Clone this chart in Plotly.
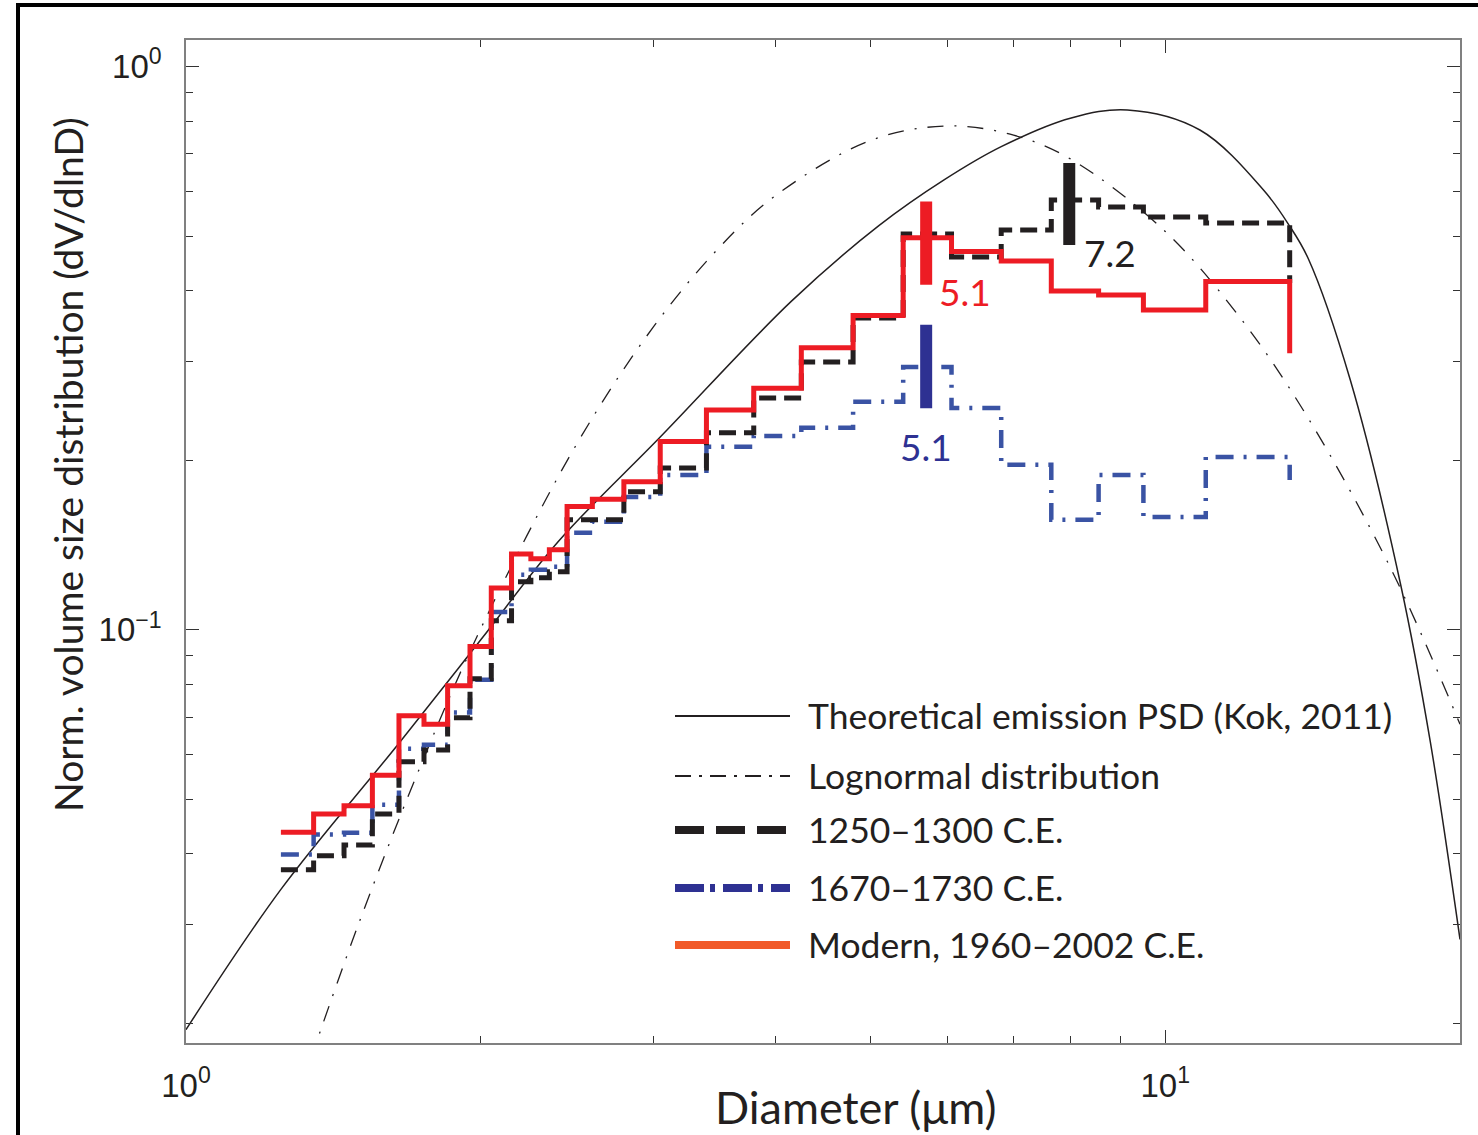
import math
import plotly.graph_objects as go

# ---------------- data ----------------
# bin edges of the step histograms (µm); last value closes the final bin
bin_edges = [1.25, 1.35, 1.45, 1.55, 1.65, 1.75, 1.85, 1.95, 2.05, 2.15, 2.25, 2.35,
             2.45, 2.6, 2.8, 3.05, 3.4, 3.8, 4.25, 4.8, 5.4, 6.05, 6.8, 7.65, 8.55,
             9.5, 11.0, 13.4]

psd_1250_1300 = [0.0375, 0.0397, 0.0415, 0.0471, 0.0583, 0.0612, 0.0698, 0.0819, 0.1038,
                 0.1217, 0.1237, 0.1268, 0.1568, 0.1568, 0.1758, 0.1939, 0.2238, 0.2581,
                 0.2990, 0.3580, 0.5047, 0.4594, 0.5129, 0.5800, 0.5637, 0.5411, 0.5279,
                 0.4130]
psd_1670_1730 = [0.0399, 0.0433, 0.0436, 0.0489, 0.0615, 0.0625, 0.0713, 0.0815, 0.1076,
                 0.1252, 0.1278, 0.1294, 0.1487, 0.1555, 0.1722, 0.1884, 0.2113, 0.2210,
                 0.2284, 0.2540, 0.2930, 0.2478, 0.1963, 0.1568, 0.1884, 0.1587, 0.2028,
                 0.1846]
psd_modern = [0.0437, 0.0471, 0.0487, 0.0552, 0.0704, 0.0680, 0.0796, 0.0934, 0.1186,
              0.1364, 0.1337, 0.1387, 0.1655, 0.1706, 0.1833, 0.2159, 0.2458, 0.2686,
              0.3170, 0.3614, 0.4971, 0.4695, 0.4520, 0.3997, 0.3933, 0.3699, 0.4153,
              0.3098]

# theoretical emission PSD (Kok, 2011)
kok_d = [1.0, 1.25, 1.65, 2.0, 2.4, 3.05, 4.15, 5.1, 5.95, 6.8, 8.0, 9.15, 10.85, 12.6,
         13.4, 14.0, 15.45, 17.4, 18.65, 20.0]
kok_v = [0.0195, 0.0346, 0.0629, 0.096, 0.1435, 0.22, 0.383, 0.522, 0.63, 0.721, 0.81,
         0.838, 0.772, 0.604, 0.521, 0.456, 0.278, 0.12, 0.0633, 0.0282]

# lognormal distribution, points
logn_d = [1.3, 1.5, 1.75, 2.0, 2.5, 3.0, 3.5, 4.0, 5.0, 6.0, 7.0, 8.0, 10.0, 12.0, 14.0,
          17.0, 20.0]
logn_v = [0.0148, 0.0300, 0.0593, 0.1005, 0.2122, 0.3447, 0.4764, 0.5904, 0.7396, 0.7848,
          0.7559, 0.6859, 0.5098, 0.3532, 0.2374, 0.1284, 0.0680]

# mode markers (thick vertical bars) and their labels
mode_labels = ["5.1", "5.1", "7.2"]
mode_x = [5.7, 5.7, 7.98]
mode_lo = [0.410, 0.2475, 0.4825]
mode_hi = [0.576, 0.348, 0.6746]

legend_labels = ["Theoretical emission PSD (Kok, 2011)", "Lognormal distribution",
                 "1250\u20131300 C.E.", "1670\u20131730 C.E.", "Modern, 1960\u20132002 C.E."]

# ---------------- styling ----------------
RED = "#ED1C24"
BLACK = "#231F20"
BLUE = "#3A53A4"
NAVY = "#2E3192"
ORANGE = "#F15A29"
TXT_FONT = "Lato"
NUM_FONT = "Liberation Sans"

W, H = 1478, 1135
L, R, T, B = 186, 18, 40, 92
PW, PH = W - L - R, H - T - B


def px_x(px):
    return (px - L) / PW


def px_y(py):
    return (H - B - py) / PH


fig = go.Figure()

fig.add_trace(go.Scatter(x=kok_d, y=kok_v, mode="lines", name=legend_labels[0],
                         line=dict(color=BLACK, width=1.5, shape="spline"), showlegend=False))
fig.add_trace(go.Scatter(x=logn_d, y=logn_v, mode="lines", name=legend_labels[1],
                         line=dict(color=BLACK, width=1.3, shape="spline",
                                   dash="16px,11px,2px,11px"), showlegend=False))
fig.add_trace(go.Scatter(x=bin_edges, y=psd_1670_1730, mode="lines", name=legend_labels[3],
                         line=dict(color=BLUE, width=4.5, shape="hv",
                                   dash="18px,10px,3px,10px"), showlegend=False))
fig.add_trace(go.Scatter(x=bin_edges, y=psd_1250_1300, mode="lines", name=legend_labels[2],
                         line=dict(color=BLACK, width=5, shape="hv", dash="17px,8px"),
                         showlegend=False))
fig.add_trace(go.Scatter(x=bin_edges, y=psd_modern, mode="lines", name=legend_labels[4],
                         line=dict(color=RED, width=5, shape="hv"), showlegend=False))

bar_colors = [RED, NAVY, BLACK]
label_shift = [(39, -7), (0, -38), (41, -8)]
annotations = []
for i in range(len(mode_x)):
    fig.add_trace(go.Scatter(x=[mode_x[i], mode_x[i]], y=[mode_lo[i], mode_hi[i]],
                             mode="lines", line=dict(color=bar_colors[i], width=12),
                             showlegend=False, hoverinfo="skip"))
    annotations.append(dict(x=math.log10(mode_x[i]), y=math.log10(mode_lo[i]),
                            xref="x", yref="y", text=mode_labels[i], showarrow=False,
                            xanchor="center", yanchor="middle",
                            xshift=label_shift[i][0], yshift=label_shift[i][1],
                            font=dict(family=TXT_FONT, size=37, color=bar_colors[i])))

# manual legend (long sample lines as in the reference)
leg_rows = [716, 776, 830, 888, 945]
leg_styles = [dict(color=BLACK, width=2, dash="solid"),
              dict(color=BLACK, width=2, dash="16px,8px,3px,8px"),
              dict(color=BLACK, width=8, dash="29px,12px"),
              dict(color=NAVY, width=8, dash="29px,6px,5px,8px"),
              dict(color=ORANGE, width=8, dash="solid")]
shapes = []
for row, st, lab in zip(leg_rows, leg_styles, legend_labels):
    shapes.append(dict(type="line", xref="paper", yref="paper", x0=px_x(675), x1=px_x(790),
                       y0=px_y(row), y1=px_y(row), line=st))
    annotations.append(dict(x=px_x(806), y=px_y(row - 1), xref="paper", yref="paper", text=lab,
                            showarrow=False, xanchor="left", yanchor="middle",
                            font=dict(family=TXT_FONT, size=35.5, color=BLACK)))

# axis titles
annotations.append(dict(x=px_x(855), y=px_y(1107), xref="paper", yref="paper",
                        text="Diameter (\u03bcm)", showarrow=False, xanchor="center",
                        yanchor="middle", font=dict(family=TXT_FONT, size=45, color=BLACK)))
annotations.append(dict(x=px_x(68), y=px_y(465), xref="paper", yref="paper",
                        text="Norm. volume size distribution (dV/dlnD)", showarrow=False,
                        textangle=-90, xanchor="center", yanchor="middle",
                        font=dict(family=TXT_FONT, size=39, color=BLACK)))

# outer frame of the figure panel
shapes.append(dict(type="rect", xref="paper", yref="paper", x0=px_x(18), y0=px_y(1200),
                   x1=px_x(1520), y1=px_y(5), line=dict(color="black", width=4)))

axis_common = dict(type="log", showgrid=False, zeroline=False, showline=True,
                   linecolor="#808080", linewidth=1.5, mirror="allticks", ticks="inside",
                   ticklen=13, tickwidth=1.3, tickcolor="#333333",
                   tickfont=dict(family=NUM_FONT, size=33, color=BLACK))

fig.update_layout(
    width=W, height=H,
    margin=dict(l=L, r=R, t=T, b=B),
    paper_bgcolor="white", plot_bgcolor="white",
    showlegend=False,
    xaxis=dict(axis_common, range=[0, math.log10(20)], tickvals=[1, 10],
               ticktext=["10<sup>0</sup>", "10<sup>1</sup>"], ticklabelstandoff=13,
               minor=dict(ticks="inside", ticklen=7, tickwidth=1.2, tickcolor="#333333",
                          tickvals=[2, 3, 4, 5, 6, 7, 8, 9], showgrid=False)),
    yaxis=dict(axis_common, range=[-1.7337, 0.0474], tickvals=[0.1, 1],
               ticktext=["10<sup>\u22121</sup>", "10<sup>0</sup>"], ticklabelstandoff=16,
               minor=dict(ticks="inside", ticklen=7, tickwidth=1.2, tickcolor="#333333",
                          tickvals=[0.02, 0.03, 0.04, 0.05, 0.06, 0.07, 0.08, 0.09,
                                    0.2, 0.3, 0.4, 0.5, 0.6, 0.7, 0.8, 0.9],
                          showgrid=False)),
    shapes=shapes,
    annotations=annotations,
)

fig.write_html("out.html")
